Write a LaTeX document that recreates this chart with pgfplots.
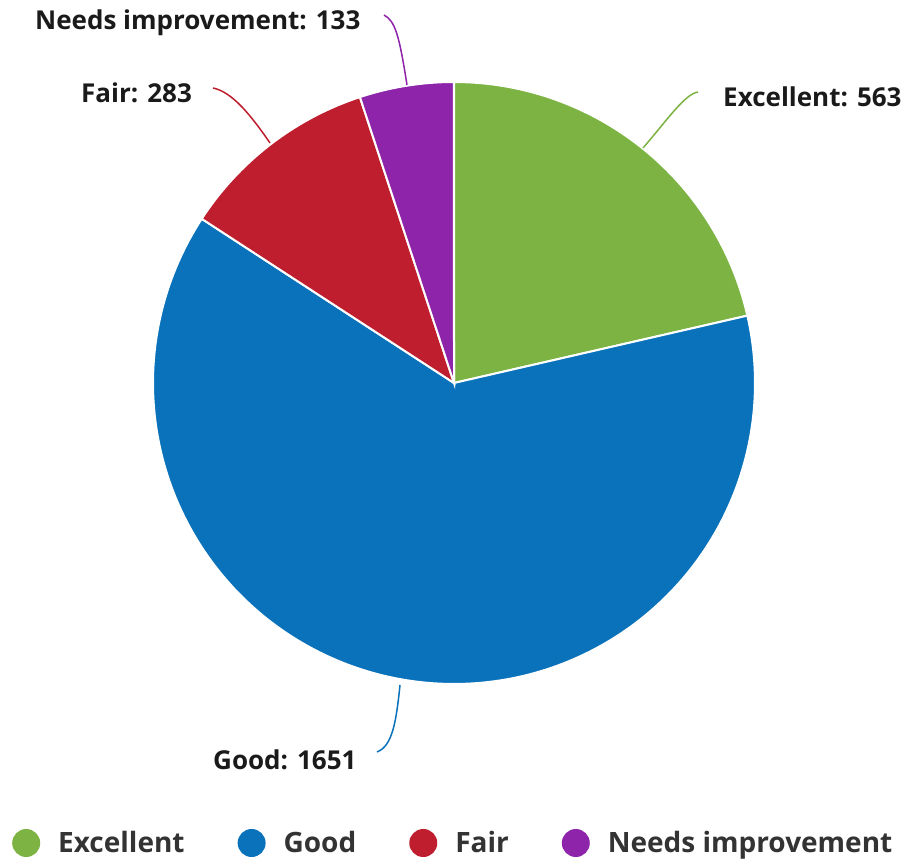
\documentclass[border=0pt]{standalone}
\usepackage{pgfplots}
\pgfplotsset{compat=1.18}
\usepackage{fontspec}
\setmainfont{Open Sans}
\definecolor{cgreen}{HTML}{7CB342}
\definecolor{cblue}{HTML}{0A72BA}
\definecolor{cred}{HTML}{BE1E2D}
\definecolor{cpurple}{HTML}{8E24AA}
\definecolor{labtxt}{HTML}{1A1A1A}
\definecolor{legtxt}{HTML}{333333}
% data
\def\vExc{563}
\def\vGood{1651}
\def\vFair{283}
\def\vNeeds{133}
\pgfmathsetmacro\vTot{\vExc+\vGood+\vFair+\vNeeds}
\pgfmathsetmacro\aO{90}
\pgfmathsetmacro\aA{\aO-360*(\vExc/\vTot)}
\pgfmathsetmacro\aB{\aA-360*(\vGood/\vTot)}
\pgfmathsetmacro\aC{\aB-360*(\vFair/\vTot)}
\pgfmathsetmacro\aD{\aC-360*(\vNeeds/\vTot)}
\def\cx{454}
\def\cy{481}
\def\rr{301}
\begin{document}
\begin{tikzpicture}
\path[use as bounding box] (0,0) rectangle (904bp,864bp);
\begin{axis}[
  at={(0,0)}, anchor=south west,
  width=904bp, height=864bp, scale only axis,
  xmin=0, xmax=904, ymin=0, ymax=864,
  hide axis, clip=false,
  legend image code/.code={\fill[#1,draw=none] (14bp,0bp) circle (14bp);},
  legend style={draw=none, fill=none, legend columns=-1,
    at={(axis cs:12,21)}, anchor=west, inner sep=0pt,
    font=\fontsize{28bp}{32bp}\selectfont\bfseries, text=legtxt,
    /tikz/every odd column/.append style={column sep=16bp},
    /tikz/every even column/.append style={column sep=51bp}},
]
\addplot[fill=cgreen, draw=white, line width=2bp, domain=\aA:\aO, samples=80, variable=\t]
  ({\cx+\rr*cos(\t)}, {\cy+\rr*sin(\t)}) -- (axis cs:\cx,\cy) -- cycle;
\addlegendentry{Excellent}
\addplot[fill=cblue, draw=white, line width=2bp, domain=\aB:\aA, samples=200, variable=\t]
  ({\cx+\rr*cos(\t)}, {\cy+\rr*sin(\t)}) -- (axis cs:\cx,\cy) -- cycle;
\addlegendentry{Good}
\addplot[fill=cred, draw=white, line width=2bp, domain=\aC:\aB, samples=50, variable=\t]
  ({\cx+\rr*cos(\t)}, {\cy+\rr*sin(\t)}) -- (axis cs:\cx,\cy) -- cycle;
\addlegendentry{Fair}
\addplot[fill=cpurple, draw=white, line width=2bp, domain=\aD:\aC, samples=30, variable=\t]
  ({\cx+\rr*cos(\t)}, {\cy+\rr*sin(\t)}) -- (axis cs:\cx,\cy) -- cycle;
\addlegendentry{Needs improvement}
% leader lines
\draw[cgreen, line width=1.5bp] (axis cs:643,716) .. controls (axis cs:668,745) and (axis cs:685,770) .. (axis cs:698,772);
\draw[cblue, line width=1.5bp] (axis cs:400,179) .. controls (axis cs:396,140) and (axis cs:392,118) .. (axis cs:377,112);
\draw[cred, line width=1.5bp] (axis cs:270,721) .. controls (axis cs:250,750) and (axis cs:232,772) .. (axis cs:213,776);
\draw[cpurple, line width=1.5bp] (axis cs:407,779) .. controls (axis cs:399,830) and (axis cs:395,843) .. (axis cs:384,849);
% labels
\begin{scope}[every node/.style={inner sep=0pt, anchor=base west, text=labtxt, font=\fontsize{26bp}{30bp}\selectfont\bfseries}]
\node at (axis cs:723,757) {Excellent: \vExc};
\node at (axis cs:213,94) {Good: \vGood};
\node at (axis cs:81,761) {Fair: \vFair};
\node at (axis cs:35,834.5) {Needs improvement: \vNeeds};
\end{scope}
\end{axis}
\end{tikzpicture}
\end{document}
